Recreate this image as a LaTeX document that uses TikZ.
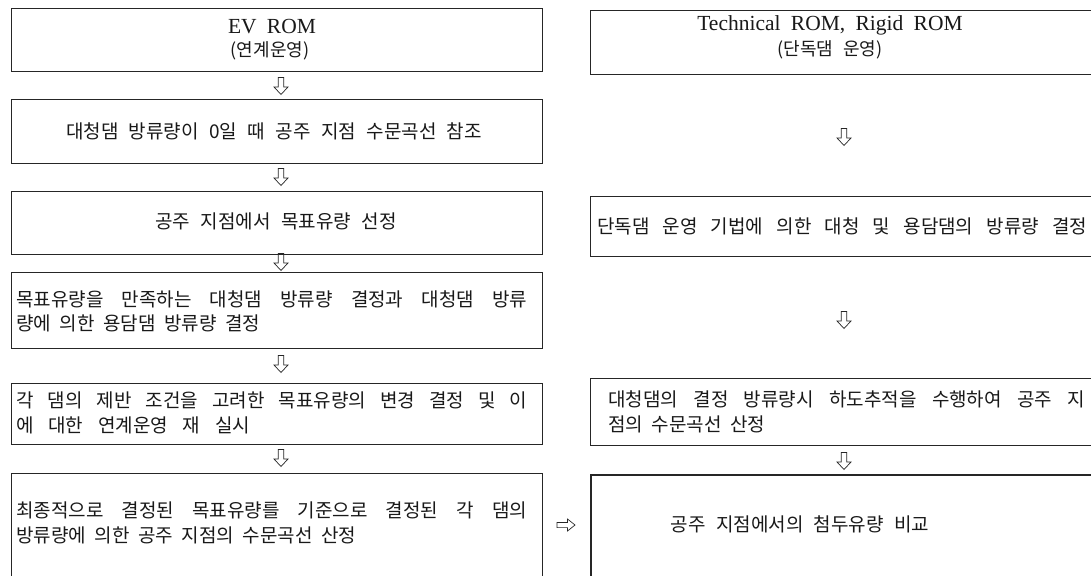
\documentclass[tikz,border=0pt]{standalone}
\usepackage{fontspec}
\setmainfont{Liberation Serif}
\newfontfamily\krfont{Noto Sans CJK KR}
\newcommand\krtext{\krfont\fontsize{19}{22}\selectfont}
\newcommand\krtitle{\krfont\fontsize{18}{22}\selectfont}
\newcommand\lttext{\fontsize{21.5}{26}\selectfont}
\newcommand\wide{\spaceskip=.55em plus .8em minus .2em\relax}
\newcommand\narrow{\spaceskip=.45em plus .8em minus .1em\relax}
\newcommand\ltspace{\spaceskip=.48em plus .2em\relax}
\tikzset{
  box/.style={draw=black!85, line width=0.9pt, inner sep=0pt, anchor=north west},
  thickbox/.style={box, line width=2pt},
  kt/.style={font=\krtext, execute at begin node=\wide, inner sep=0pt, text=black!90},
  kl/.style={font=\krtext, execute at begin node=\narrow, inner sep=0pt, text=black!90, anchor=west},
  ktitle/.style={font=\krtitle, execute at begin node=\wide, inner sep=0pt, text=black!90},
  lt/.style={font=\lttext, execute at begin node=\ltspace, inner sep=0pt, text=black!90},
  arrowline/.style={draw=black!85, line width=0.7pt, line join=miter},
  darr/.pic={\draw[arrowline] (-2.8,-8.5) -- (-2.8,1) -- (-7,1) -- (0,8.5) -- (7,1) -- (2.8,1) -- (2.8,-8.5) -- cycle;},
  rarr/.pic={\draw[arrowline] (-9,-2.6) -- (1.5,-2.6) -- (1.5,-6) -- (9,0) -- (1.5,6) -- (1.5,2.6) -- (-9,2.6) -- cycle;}
}
\begin{document}
\begin{tikzpicture}[x=1pt,y=-1pt]
\useasboundingbox (0,0) rectangle (1091,575);
\clip (0,0) rectangle (1091,575);
\fill[white] (0,0) rectangle (1091,575);

% left column boxes
\node[box, minimum width=531, minimum height=63] (L1) at (11,8) {};
\node[box, minimum width=531, minimum height=64] (L2) at (11,99) {};
\node[box, minimum width=531, minimum height=63] (L3) at (11,191) {};
\node[box, minimum width=531, minimum height=76] (L4) at (11,272) {};
\node[box, minimum width=531, minimum height=61] (L5) at (11,383) {};
\node[box, minimum width=531, minimum height=140] (L6) at (11,473) {};

% right column boxes
\node[box, minimum width=510, minimum height=64] (R1) at (590,10) {};
\node[box, minimum width=510, minimum height=60] (R2) at (590,196) {};
\node[box, minimum width=510, minimum height=67] (R3) at (590,378) {};
\node[thickbox, minimum width=510, minimum height=140] (R4) at (590,474) {};

% left texts
\node[lt] (t1a) at (272,27) {EV ROM};
\node[ktitle] (t1b) at (270,51) {(연계운영)};
\node[kt] (t2) at (274,131) {대청댐 방류량이 0일 때 공주 지점 수문곡선 참조};
\node[kt] (t3) at (276,221) {공주 지점에서 목표유량 선정};
\node[kl] (t4a) at (16,299) {\makebox[511pt][s]{목표유량을 만족하는 대청댐 방류량 결정과 대청댐 방류}};
\node[kl] (t4b) at (16,323) {량에 의한 용담댐 방류량 결정};
\node[kl] (t5a) at (16,400) {\makebox[511pt][s]{각 댐의 제반 조건을 고려한 목표유량의 변경 결정 및 이}};
\node[kl] (t5b) at (16,425) {\makebox[234pt][s]{에 대한 연계운영 재 실시}};
\node[kl] (t6a) at (16,510) {\makebox[511pt][s]{최종적으로 결정된 목표유량를 기준으로 결정된 각 댐의}};
\node[kl] (t6b) at (16,535) {방류량에 의한 공주 지점의 수문곡선 산정};

% right texts
\node[lt] (r1a) at (830,25) {Technical ROM, Rigid ROM};
\node[ktitle] (r1b) at (830,50) {(단독댐 운영)};
\node[kl] (r2) at (597,226) {\makebox[490pt][s]{단독댐 운영 기법에 의한 대청 및 용담댐의 방류량 결정}};
\node[kl] (r3a) at (608,399) {\makebox[477pt][s]{대청댐의 결정 방류량시 하도추적을 수행하여 공주 지}};
\node[kl] (r3b) at (608,424) {점의 수문곡선 산정};
\node[kt] (r4) at (800,524) {공주 지점에서의 첨두유량 비교};

% arrows
\pic (a1) at (281,86) {darr};
\pic (a2) at (281,177) {darr};
\pic (a3) at (281,262) {darr};
\pic (a4) at (281,364) {darr};
\pic (a5) at (281,458) {darr};
\pic (b1) at (844,137) {darr};
\pic (b2) at (844,320) {darr};
\pic (b3) at (844,461) {darr};
\pic (c1) at (566,525) {rarr};
\end{tikzpicture}
\end{document}
